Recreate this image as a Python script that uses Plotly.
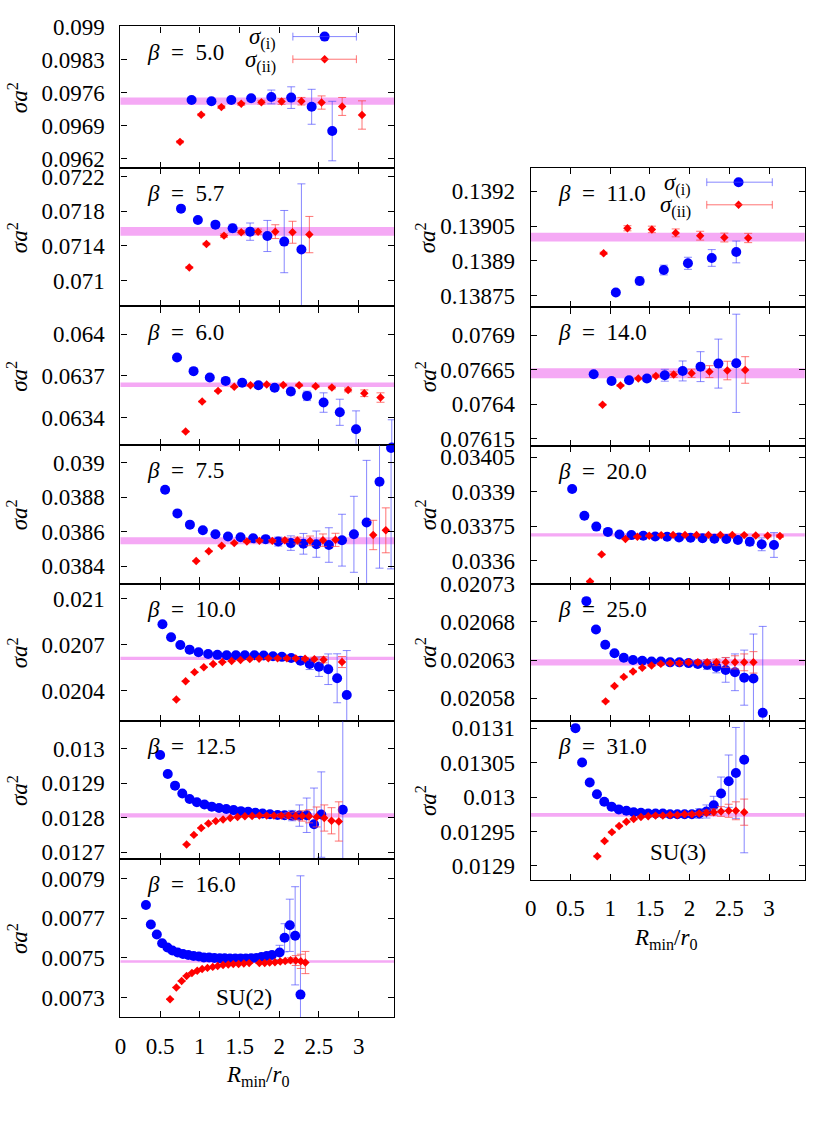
import plotly.graph_objects as go

# page is 827x1122; the browser body keeps its default 8px margin,
# so the figure itself is 16px smaller and all page positions are shifted by 8px.
PAGE_W, PAGE_H = 827, 1122
OFF = 8
W, H = PAGE_W - 2 * OFF, PAGE_H - 2 * OFF
FONT = "Liberation Serif"
FS = 23

# ---------------- data ----------------
# beta = 5.0 (SU(2))
b50_R_i = [0.896, 1.146, 1.396, 1.646, 1.9, 2.15, 2.408, 2.667]
b50_s_i = [0.097444, 0.097417, 0.097444, 0.097479, 0.097507, 0.097493, 0.097299, 0.096785]
b50_e_i = [0.00003, 0.00003, 0.00004, 0.00005, 0.000146, 0.000229, 0.00037, 0.00063]
b50_R_ii = [0.75, 1.017, 1.271, 1.521, 1.775, 2.029, 2.279, 2.533, 2.792, 3.042]
b50_s_ii = [0.096556, 0.097132, 0.097292, 0.097361, 0.097396, 0.09741, 0.097417, 0.097389, 0.097306, 0.097125]
b50_e_ii = [0.00002, 0.00002, 0.00003, 0.00003, 0.00004, 0.00006, 0.00008, 0.00014, 0.00019, 0.0003]
b50_band = [0.097417, 0.000076]

# beta = 5.7
b57_R_i = [0.7625, 0.975, 1.196, 1.4125, 1.633, 1.85, 2.0625, 2.279]
b57_s_i = [0.071831, 0.0717, 0.071646, 0.071604, 0.071565, 0.071515, 0.07145, 0.071358]
b57_e_i = [0.00001, 0.00002, 0.00003, 0.000046, 0.0001, 0.00018, 0.00036, 0.00076]
b57_R_ii = [0.867, 1.083, 1.304, 1.521, 1.733, 1.95, 2.167, 2.379]
b57_s_ii = [0.07115, 0.071423, 0.071519, 0.071558, 0.071565, 0.071565, 0.071558, 0.071531]
b57_e_ii = [0.00001, 0.00001, 0.00002, 0.00002, 0.00003, 0.00008, 0.000127, 0.00021]
b57_band = [0.071569, 0.00005]

# beta = 6.0
b60_R_i = [0.7125, 0.921, 1.125, 1.325, 1.533, 1.7375, 1.942, 2.146, 2.35, 2.558, 2.7625, 2.967, 3.417]
b60_s_i = [0.063832, 0.063734, 0.063688, 0.063664, 0.06365, 0.063633, 0.063614, 0.063587, 0.063556,
           0.063508, 0.063438, 0.063316, 0.063184]
b60_e_i = [0.000005, 0.000005, 0.000005, 0.000006, 0.000007, 0.000008, 0.00001, 0.000024, 0.000034,
           0.00007, 0.000094, 0.000132, 0.0002]
b60_R_ii = [0.821, 1.029, 1.229, 1.433, 1.6375, 1.842, 2.05, 2.25, 2.458, 2.6625, 2.867, 3.071, 3.275]
b60_s_ii = [0.063299, 0.063515, 0.063592, 0.063621, 0.063633, 0.063638, 0.063635, 0.063633, 0.063626,
            0.063616, 0.063599, 0.063575, 0.063544]
b60_e_ii = [0.000003, 0.000003, 0.000004, 0.000004, 0.000005, 0.000005, 0.000006, 0.000007, 0.000008,
            0.00001, 0.000014, 0.000024, 0.000034]
b60_band = [0.063636, 0.0000156]

# beta = 7.5
b75_R_i = [0.5625, 0.717, 0.875, 1.0375, 1.196, 1.354, 1.5125, 1.671, 1.829, 1.9875, 2.146, 2.304,
           2.467, 2.625, 2.79, 2.94, 3.1, 3.2625, 3.408]
b75_s_i = [0.038843, 0.038706, 0.038641, 0.038608, 0.038585, 0.038572, 0.038568, 0.038562, 0.038557,
           0.038543, 0.038534, 0.03853, 0.038528, 0.038523, 0.038551, 0.038585, 0.038653, 0.038889, 0.039085]
b75_e_i = [0.000003, 0.000003, 0.000004, 0.000004, 0.000005, 0.000006, 0.000008, 0.00001, 0.000015,
           0.000026, 0.000042, 0.00006, 0.000076, 0.0001, 0.00015, 0.00022, 0.00036, 0.0005, 0.0007]
b75_R_ii = [0.954, 1.1125, 1.275, 1.433, 1.592, 1.75, 1.9125, 2.071, 2.229, 2.3875, 2.55, 2.708, 3.183, 3.342]
b75_s_ii = [0.03843, 0.038487, 0.038519, 0.038534, 0.038543, 0.038547, 0.038547, 0.038551, 0.038549,
            0.038547, 0.038551, 0.038553, 0.038581, 0.038608]
b75_e_ii = [0.000003, 0.000003, 0.000004, 0.000004, 0.000005, 0.000006, 0.000008, 0.000012, 0.00002,
            0.000028, 0.000036, 0.000038, 0.000085, 0.00013]
b75_band = [0.038548, 0.00002]

# beta = 10.0
b100_R_i = [0.529, 0.6375, 0.754, 0.871, 0.983, 1.104, 1.221, 1.3375, 1.454, 1.567, 1.6875, 1.804,
            1.921, 2.033, 2.15, 2.267, 2.383, 2.5, 2.617, 2.729, 2.85]
b100_s_i = [0.020834, 0.020749, 0.020698, 0.020668, 0.020651, 0.02064, 0.020634, 0.020632, 0.020632,
            0.020632, 0.020632, 0.02063, 0.020625, 0.020621, 0.020613, 0.020596, 0.020574, 0.020557,
            0.02054, 0.020481, 0.020372]
b100_e_i = [0.000002, 0.000002, 0.000002, 0.000002, 0.000002, 0.000002, 0.000002, 0.000002, 0.000002,
            0.000002, 0.000002, 0.000002, 0.000003, 0.000004, 0.000006, 0.000015, 0.000036, 0.000064,
            0.0001, 0.00016, 0.00029]
b100_R_ii = [0.704, 0.821, 0.933, 1.05, 1.167, 1.283, 1.4, 1.5125, 1.629, 1.746, 1.8625, 1.979, 2.096,
             2.208, 2.325, 2.442, 2.558, 2.79]
b100_s_ii = [0.020342, 0.020462, 0.020521, 0.020553, 0.020574, 0.020587, 0.020594, 0.0206, 0.020606,
             0.020608, 0.020611, 0.020611, 0.020611, 0.020611, 0.020608, 0.020606, 0.020602, 0.020587]
b100_e_ii = [0.000002, 0.000002, 0.000002, 0.000002, 0.000002, 0.000002, 0.000002, 0.000002, 0.000002,
             0.000002, 0.000002, 0.000003, 0.000004, 0.000005, 0.000008, 0.000012, 0.00002, 0.000036]
b100_band = [0.020611, 0.0000106]

# beta = 12.5
b125_R_i = [0.5, 0.596, 0.6875, 0.779, 0.871, 0.9625, 1.058, 1.15, 1.242, 1.333, 1.425, 1.517, 1.608,
            1.7, 1.79, 1.883, 1.979, 2.067, 2.1625, 2.254, 2.346, 2.4375, 2.529, 2.8]
b125_s_i = [0.012982, 0.012927, 0.012893, 0.01287, 0.012854, 0.012845, 0.012838, 0.012832, 0.012828,
            0.012825, 0.012822, 0.012819, 0.012817, 0.012814, 0.012812, 0.01281, 0.012808, 0.012807,
            0.012806, 0.012806, 0.012807, 0.012781, 0.012809, 0.012823]
b125_e_i = [0.000001, 0.000001, 0.000001, 0.000001, 0.000001, 0.000001, 0.000001, 0.000001, 0.000001,
            0.000001, 0.000001, 0.000001, 0.000001, 0.000001, 0.000002, 0.000002, 0.000003, 0.000006,
            0.000015, 0.000031, 0.00005, 0.000105, 0.000124, 0.00038]
b125_R_ii = [0.833, 0.925, 1.017, 1.108, 1.2, 1.292, 1.383, 1.475, 1.567, 1.658, 1.75, 1.842, 1.933,
             2.025, 2.117, 2.208, 2.29, 2.375, 2.471, 2.567, 2.658, 2.75]
b125_s_ii = [0.012722, 0.01275, 0.01277, 0.012783, 0.01279, 0.012795, 0.012799, 0.012802, 0.012804,
             0.012805, 0.012806, 0.012806, 0.012806, 0.012806, 0.012806, 0.012805, 0.012805, 0.012804,
             0.012802, 0.012799, 0.012791, 0.012789]
b125_e_ii = [0.000001, 0.000001, 0.000001, 0.000001, 0.000001, 0.000001, 0.000001, 0.000001, 0.000001,
             0.000001, 0.000002, 0.000002, 0.000003, 0.000005, 0.000008, 0.000011, 0.000015, 0.000019,
             0.000029, 0.000038, 0.000038, 0.000057]
b125_band = [0.012807, 0.0000062]

# beta = 16.0
b160_R_i = [0.321, 0.383, 0.458, 0.525, 0.592, 0.654, 0.721, 0.7875, 0.854, 0.921, 0.9875, 1.05, 1.117,
            1.183, 1.25, 1.3125, 1.379, 1.446, 1.5125, 1.579, 1.646, 1.708, 1.775, 1.842, 1.908, 2.004,
            2.067, 2.133, 2.2, 2.267]
b160_s_i = [0.007768, 0.007669, 0.007619, 0.007574, 0.007553, 0.007538, 0.007528, 0.00752, 0.007515,
            0.00751, 0.007507, 0.007503, 0.007502, 0.0075, 0.007498, 0.007498, 0.007497, 0.007497,
            0.007497, 0.007497, 0.007498, 0.0075, 0.007505, 0.00751, 0.007515, 0.007528, 0.007602,
            0.007665, 0.007612, 0.007315]
b160_e_i = [0.000001, 0.000001, 0.000001, 0.000001, 0.000001, 0.000001, 0.000001, 0.000001, 0.000001,
            0.000001, 0.000001, 0.000001, 0.000001, 0.000001, 0.000001, 0.000001, 0.000002, 0.000002,
            0.000002, 0.000002, 0.000003, 0.000003, 0.000004, 0.000006, 0.00001, 0.000036, 0.000071,
            0.000132, 0.000248, 0.0006]
b160_R_ii = [0.625, 0.704, 0.771, 0.833, 0.9, 0.967, 1.029, 1.096, 1.1625, 1.225, 1.292, 1.358, 1.421,
             1.4875, 1.554, 1.621, 1.75, 1.817, 1.879, 1.946, 2.0125, 2.075, 2.142, 2.208, 2.271, 2.329]
b160_s_ii = [0.007292, 0.007351, 0.007384, 0.007409, 0.007424, 0.007436, 0.007444, 0.00745, 0.007455,
             0.00746, 0.007464, 0.007467, 0.007469, 0.00747, 0.007472, 0.007474, 0.007474, 0.007475,
             0.007477, 0.007478, 0.007482, 0.007485, 0.007488, 0.007487, 0.007483, 0.007477]
b160_e_ii = [0.000001, 0.000001, 0.000001, 0.000001, 0.000001, 0.000001, 0.000001, 0.000001, 0.000001,
             0.000001, 0.000001, 0.000001, 0.000001, 0.000001, 0.000002, 0.000002, 0.000002, 0.000003,
             0.000003, 0.000004, 0.000005, 0.000007, 0.000013, 0.000025, 0.000036, 0.000056]
b160_band = [0.007482, 0.0000066]

# beta = 11.0 (SU(3))
b110_R_i = [1.071, 1.371, 1.675, 1.979, 2.279, 2.5875]
b110_s_i = [0.138764, 0.138814, 0.138861, 0.13889, 0.138913, 0.138939]
b110_e_i = [0.000008, 0.000017, 0.000021, 0.000026, 0.000036, 0.000047]
b110_R_ii = [0.917, 1.217, 1.525, 1.825, 2.133, 2.4375, 2.7375]
b110_s_ii = [0.138933, 0.139041, 0.139036, 0.139021, 0.139009, 0.139001, 0.138999]
b110_e_ii = [0.000005, 0.000011, 0.000014, 0.000017, 0.000019, 0.000019, 0.00002]
b110_band = [0.139003, 0.0000186]

# beta = 14.0
b140_R_i = [0.792, 1.017, 1.2375, 1.4625, 1.6875, 1.9125, 2.1375, 2.3625, 2.5875]
b140_s_i = [0.076617, 0.076569, 0.076574, 0.076586, 0.07661, 0.076641, 0.076672, 0.076694, 0.076696]
b140_e_i = [0.000005, 0.000008, 0.000012, 0.00002, 0.000043, 0.000072, 0.000108, 0.000177, 0.000355]
b140_R_ii = [0.904, 1.129, 1.354, 1.575, 1.8, 2.025, 2.25, 2.475, 2.7]
b140_s_ii = [0.076397, 0.076536, 0.076586, 0.076605, 0.076615, 0.076624, 0.076636, 0.076644, 0.076648]
b140_e_ii = [0.000004, 0.000006, 0.000008, 0.000012, 0.00002, 0.00003, 0.000043, 0.000067, 0.000096]
b140_band = [0.076624, 0.000036]

# beta = 20.0
b200_R_i = [0.521, 0.675, 0.825, 0.971, 1.117, 1.267, 1.417, 1.567, 1.717, 1.867, 2.0125, 2.1625,
            2.3125, 2.4625, 2.608, 2.758, 2.908, 3.0625]
b200_s_i = [0.033912, 0.033795, 0.033748, 0.033725, 0.033714, 0.033711, 0.033708, 0.033705, 0.033704,
            0.033701, 0.0337, 0.033697, 0.033695, 0.033694, 0.03369, 0.033682, 0.033671, 0.033668]
b200_e_i = [0.000002, 0.000002, 0.000002, 0.000002, 0.000002, 0.000002, 0.000002, 0.000002, 0.000002,
            0.000002, 0.000003, 0.000003, 0.000004, 0.000005, 0.000011, 0.000017, 0.000028, 0.000054]
b200_R_ii = [0.746, 0.892, 1.192, 1.342, 1.492, 1.642, 1.792, 1.942, 2.0875, 2.2375, 2.3875, 2.5375,
             2.6875, 2.833, 2.983, 3.1375]
b200_s_ii = [0.033509, 0.033627, 0.033694, 0.033704, 0.033708, 0.033711, 0.033712, 0.033712, 0.033712,
             0.033712, 0.033712, 0.033712, 0.033711, 0.033709, 0.033708, 0.033707]
b200_e_ii = [0.000002, 0.000002, 0.000002, 0.000002, 0.000002, 0.000002, 0.000002, 0.000002, 0.000002,
             0.000002, 0.000002, 0.000003, 0.000003, 0.000004, 0.000005, 0.000006]
b200_band = [0.033712, 0.000007]

# beta = 25.0
b250_R_i = [0.7, 0.821, 0.9375, 1.054, 1.171, 1.2875, 1.404, 1.521, 1.6375, 1.754, 1.871, 1.9875,
            2.104, 2.221, 2.3375, 2.454, 2.571, 2.6875, 2.804, 2.921]
b250_s_i = [0.020707, 0.02067, 0.02065, 0.020639, 0.020633, 0.02063, 0.020629, 0.020628, 0.020628,
            0.020627, 0.020627, 0.020626, 0.020625, 0.020624, 0.020621, 0.020617, 0.020614, 0.020607,
            0.020606, 0.020561]
b250_e_i = [0.000001, 0.000001, 0.000001, 0.000001, 0.000001, 0.000001, 0.000001, 0.000001, 0.000002,
            0.000002, 0.000002, 0.0000034, 0.0000043, 0.0000064, 0.0000077, 0.000016, 0.000024, 0.000036,
            0.000058, 0.000113]
b250_R_ii = [0.942, 1.054, 1.171, 1.2875, 1.404, 1.521, 1.6375, 1.754, 1.871, 1.9875, 2.104, 2.221,
             2.3375, 2.454, 2.571, 2.6875, 2.804]
b250_s_ii = [0.020576, 0.020596, 0.020608, 0.020615, 0.02062, 0.020623, 0.020625, 0.020626, 0.020626,
             0.020627, 0.020627, 0.020627, 0.020627, 0.020627, 0.020627, 0.020627, 0.020627]
b250_e_ii = [0.000001, 0.000001, 0.000001, 0.000001, 0.000001, 0.000001, 0.000001, 0.000001, 0.000002,
             0.000002, 0.000002, 0.0000034, 0.0000043, 0.0000064, 0.0000086, 0.000011, 0.000014]
b250_band = [0.020627, 0.0000041]

# beta = 31.0
b310_R_i = [0.5625, 0.646, 0.742, 0.833, 0.925, 1.017, 1.108, 1.204, 1.296, 1.3875, 1.479, 1.571,
            1.6625, 1.754, 1.846, 1.9375, 2.029, 2.121, 2.2125, 2.304, 2.396, 2.492, 2.583, 2.6875]
b310_s_i = [0.0131, 0.01305, 0.013021, 0.013004, 0.012993, 0.012986, 0.012982, 0.01298, 0.012978,
            0.012977, 0.012976, 0.012976, 0.012976, 0.012975, 0.012975, 0.012975, 0.012975, 0.012976,
            0.012979, 0.012988, 0.013005, 0.013023, 0.013035, 0.013054]
b310_e_i = [0.000001, 0.000001, 0.000001, 0.000001, 0.000001, 0.000001, 0.000001, 0.000001, 0.000001,
            0.000001, 0.000001, 0.000001, 0.000001, 0.000001, 0.000002, 0.000002, 0.0000038, 0.000007,
            0.0000095, 0.000013, 0.000024, 0.000038, 0.000066, 0.000135]
b310_R_ii = [0.8375, 0.929, 1.021, 1.1125, 1.204, 1.296, 1.3875, 1.479, 1.571, 1.6625, 1.754, 1.846,
             1.9375, 2.029, 2.121, 2.2125, 2.304, 2.396, 2.492, 2.583, 2.6875]
b310_s_ii = [0.012914, 0.012936, 0.012949, 0.012958, 0.012964, 0.012968, 0.012971, 0.012972, 0.012973,
             0.012973, 0.012974, 0.012974, 0.012975, 0.012975, 0.012976, 0.012977, 0.012978, 0.012979,
             0.01298, 0.01298, 0.012978]
b310_e_ii = [0.000001, 0.000001, 0.000001, 0.000001, 0.000001, 0.000001, 0.000001, 0.000001, 0.000001,
             0.000001, 0.000001, 0.000001, 0.000001, 0.000002, 0.000002, 0.0000038, 0.0000047, 0.000007,
             0.0000095, 0.000013, 0.000019]
b310_band = [0.012974, 0.0000028]

# axis ranges / tick labels
x_range = [0, 3.45]
x_ticks = [0, 0.5, 1, 1.5, 2, 2.5, 3]
x_ticktext = ["0", "0.5", "1", "1.5", "2", "2.5", "3"]

panels = [
    dict(beta="5.0", col=0, top=22.7, bot=166.7, yr=[0.0960, 0.0990],
         yt=["0.0962", "0.0969", "0.0976", "0.0983", "0.099"],
         d=(b50_R_i, b50_s_i, b50_e_i, b50_R_ii, b50_s_ii, b50_e_ii, b50_band)),
    dict(beta="5.7", col=0, top=166.7, bot=307.3, yr=[0.0707, 0.0723],
         yt=["0.071", "0.0714", "0.0718", "0.0722"],
         d=(b57_R_i, b57_s_i, b57_e_i, b57_R_ii, b57_s_ii, b57_e_ii, b57_band)),
    dict(beta="6.0", col=0, top=307.3, bot=448.5, yr=[0.0632, 0.0642],
         yt=["0.0634", "0.0637", "0.064"],
         d=(b60_R_i, b60_s_i, b60_e_i, b60_R_ii, b60_s_ii, b60_e_ii, b60_band)),
    dict(beta="7.5", col=0, top=448.5, bot=589, yr=[0.0383, 0.0391],
         yt=["0.0384", "0.0386", "0.0388", "0.039"],
         d=(b75_R_i, b75_s_i, b75_e_i, b75_R_ii, b75_s_ii, b75_e_ii, b75_band)),
    dict(beta="10.0", col=0, top=589, bot=729, yr=[0.0202, 0.0211],
         yt=["0.0204", "0.0207", "0.021"],
         d=(b100_R_i, b100_s_i, b100_e_i, b100_R_ii, b100_s_ii, b100_e_ii, b100_band)),
    dict(beta="12.5", col=0, top=729, bot=869, yr=[0.01268, 0.01308],
         yt=["0.0127", "0.0128", "0.0129", "0.013"],
         d=(b125_R_i, b125_s_i, b125_e_i, b125_R_ii, b125_s_ii, b125_e_ii, b125_band)),
    dict(beta="16.0", col=0, top=869, bot=1030, yr=[0.0072, 0.0080],
         yt=["0.0073", "0.0075", "0.0077", "0.0079"],
         d=(b160_R_i, b160_s_i, b160_e_i, b160_R_ii, b160_s_ii, b160_e_ii, b160_band),
         bottom=True, group="SU(2)", gx=248, gy=1010, tx=261.7, ty=1090),
    dict(beta="11.0", col=1, top=166.7, bot=308.3, yr=[0.1387, 0.1393],
         yt=["0.13875", "0.1389", "0.13905", "0.1392"],
         d=(b110_R_i, b110_s_i, b110_e_i, b110_R_ii, b110_s_ii, b110_e_ii, b110_band)),
    dict(beta="14.0", col=1, top=308.3, bot=449, yr=[0.0761, 0.0771],
         yt=["0.07615", "0.0764", "0.07665", "0.0769"],
         d=(b140_R_i, b140_s_i, b140_e_i, b140_R_ii, b140_s_ii, b140_e_ii, b140_band)),
    dict(beta="20.0", col=1, top=449, bot=589, yr=[0.0335, 0.0341],
         yt=["0.0336", "0.03375", "0.0339", "0.03405"],
         d=(b200_R_i, b200_s_i, b200_e_i, b200_R_ii, b200_s_ii, b200_e_ii, b200_band)),
    dict(beta="25.0", col=1, top=589, bot=729, yr=[0.02055, 0.02073],
         yt=["0.02058", "0.02063", "0.02068", "0.02073"],
         d=(b250_R_i, b250_s_i, b250_e_i, b250_R_ii, b250_s_ii, b250_e_ii, b250_band)),
    dict(beta="31.0", col=1, top=729, bot=890, yr=[0.01288, 0.01311],
         yt=["0.0129", "0.01295", "0.013", "0.01305", "0.0131"],
         d=(b310_R_i, b310_s_i, b310_e_i, b310_R_ii, b310_s_ii, b310_e_ii, b310_band),
         bottom=True, group="SU(3)", gx=685, gy=862, tx=673, ty=950),
]

# ---------------- layout geometry (page pixels) ----------------
COL_X = [(123.3, 399.3), (536.7, 812.7)]
YTITLE_X = [20, 431.7]
BETA_X = [148, 561.7]


def px(x):
    return (x - OFF) / W


def py(y):
    return 1 - (y - OFF) / H


BLUE = "#0000ff"
RED = "#ff0000"
BLUE_ERR = "rgba(70,70,255,0.65)"
RED_ERR = "rgba(255,70,70,0.75)"
BAND = "rgba(242,140,242,0.75)"

fig = go.Figure()
layout = dict(width=W, height=H, margin=dict(l=0, r=0, t=0, b=0, pad=0), autosize=False,
              paper_bgcolor="white", plot_bgcolor="rgba(0,0,0,0)", showlegend=False,
              font=dict(family=FONT, size=FS, color="black"))
shapes, annotations = [], []

axis_common = dict(showline=True, linecolor="black", linewidth=1.2, mirror="allticks",
                   ticks="inside", ticklen=6, tickwidth=1, tickcolor="black",
                   showgrid=False, zeroline=False, fixedrange=True,
                   tickfont=dict(family=FONT, size=FS, color="black"))


def note(x, y, text, xa="center", ya="middle", **kw):
    d = dict(x=px(x), y=py(y), xref="paper", yref="paper", text=text, showarrow=False,
             xanchor=xa, yanchor=ya, font=dict(family=FONT, size=FS, color="black"))
    d.update(kw)
    annotations.append(d)


for i, p in enumerate(panels):
    n = "" if i == 0 else str(i + 1)
    xa, ya = "x" + n, "y" + n
    x0, x1 = COL_X[p["col"]]
    layout["xaxis" + n] = dict(axis_common, domain=[px(x0), px(x1)], range=x_range,
                               tickvals=x_ticks, ticktext=x_ticktext, anchor=ya,
                               showticklabels=p.get("bottom", False), ticklabelstandoff=8)
    layout["yaxis" + n] = dict(axis_common, domain=[py(p["bot"]), py(p["top"])], range=p["yr"],
                               tickvals=[float(t) for t in p["yt"]], ticktext=p["yt"], anchor=xa,
                               ticklabelstandoff=10)
    Ri, si, ei, Rii, sii, eii, band = p["d"]
    shapes.append(dict(type="rect", xref=xa + " domain", yref=ya, x0=0, x1=1,
                       y0=band[0] - band[1], y1=band[0] + band[1],
                       fillcolor=BAND, line=dict(width=0), layer="below"))
    fig.add_trace(go.Scatter(x=Ri, y=si, mode="markers", xaxis=xa, yaxis=ya,
                             marker=dict(symbol="circle", size=10, color=BLUE),
                             error_y=dict(type="data", array=ei, color=BLUE_ERR, thickness=1, width=4)))
    fig.add_trace(go.Scatter(x=Rii, y=sii, mode="markers", xaxis=xa, yaxis=ya,
                             marker=dict(symbol="diamond", size=6.5, color=RED),
                             error_y=dict(type="data", array=eii, color=RED_ERR, thickness=1, width=4)))
    note(BETA_X[p["col"]], p["top"] + 26, "<i>β</i>&nbsp; =&nbsp; " + p["beta"], xa="left")
    note(YTITLE_X[p["col"]], (p["top"] + p["bot"]) / 2, "<i>σa</i><sup>2</sup>", textangle=-90)
    if p.get("bottom"):
        note(p["gx"], p["gy"], p["group"])
        note(p["tx"], p["ty"], "<i>R</i><sub>min</sub>/<i>r</i><sub>0</sub>")

# ---------------- legend keys (overlay axis in page pixels) ----------------
layout["xaxis13"] = dict(domain=[0, 1], range=[OFF, OFF + W], visible=False, fixedrange=True, anchor="y13")
layout["yaxis13"] = dict(domain=[0, 1], range=[OFF + H, OFF], visible=False, fixedrange=True, anchor="x13")

legend_keys = [
    dict(tr=282, l0=297, l1=361, mx=329, y=[33, 56]),
    dict(tr=700, l0=714, l1=780, mx=746, y=[181, 204]),
]
labels = ["<i>σ</i><sub>(i)</sub>", "<i>σ</i><sub>(ii)</sub>"]
for k in legend_keys:
    for j, yy in enumerate(k["y"]):
        ec = BLUE_ERR if j == 0 else RED_ERR
        shapes.append(dict(type="line", xref="x13", yref="y13", x0=k["l0"], x1=k["l1"], y0=yy, y1=yy,
                           line=dict(color=ec, width=1)))
        for xx in (k["l0"], k["l1"]):
            shapes.append(dict(type="line", xref="x13", yref="y13", x0=xx, x1=xx, y0=yy - 4, y1=yy + 4,
                               line=dict(color=ec, width=1)))
        note(k["tr"], yy + 2, labels[j], xa="right")
    fig.add_trace(go.Scatter(x=[k["mx"]], y=[k["y"][0]], mode="markers", xaxis="x13", yaxis="y13",
                             marker=dict(symbol="circle", size=10, color=BLUE), hoverinfo="skip"))
    fig.add_trace(go.Scatter(x=[k["mx"]], y=[k["y"][1]], mode="markers", xaxis="x13", yaxis="y13",
                             marker=dict(symbol="diamond", size=6.5, color=RED), hoverinfo="skip"))

layout["shapes"] = shapes
layout["annotations"] = annotations
fig.update_layout(**layout)
fig.write_html("out.html", config={"responsive": False, "displayModeBar": False})
